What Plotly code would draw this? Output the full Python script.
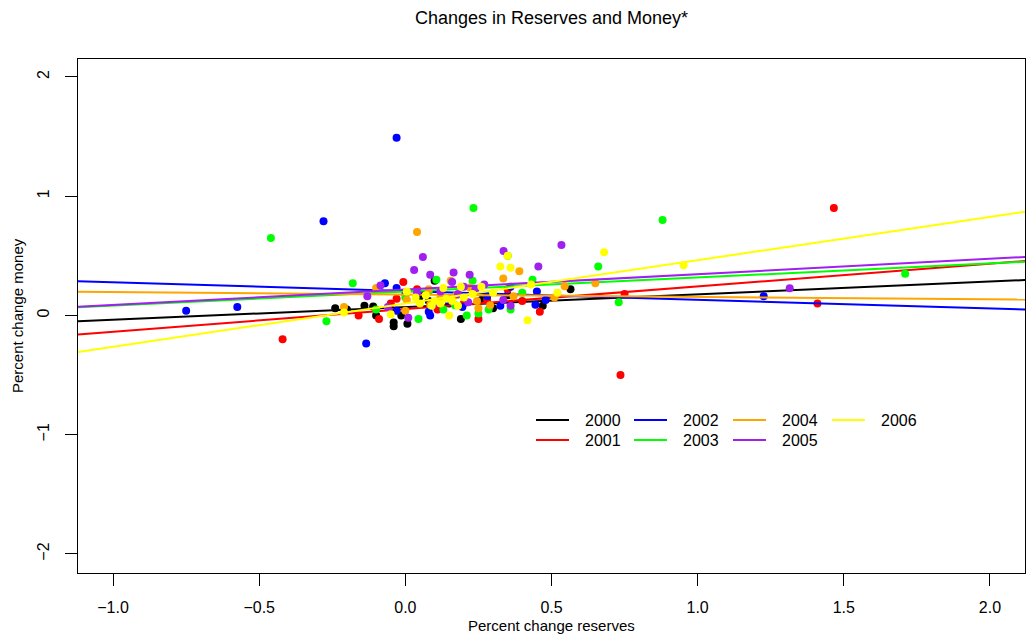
import plotly.graph_objects as go

years = ["2000", "2001", "2002", "2003", "2004", "2005", "2006"]
colors = ["#000000", "#FF0000", "#0000FF", "#00FF00", "#FFA500", "#A020F0", "#FFFF00"]

# reserves change (x) and money change (y) per year
x2000 = [-0.24, -0.14, -0.11, -0.10, -0.04, -0.04, -0.014, 0.007, 0.10, 0.19, 0.26, 0.30, 0.47, 0.565, 0.08, 0.15, 0.35, 0.05, -0.20, 0.12]
y2000 = [0.06, 0.08, 0.075, 0.0, -0.06, -0.09, 0.0, -0.07, 0.29, -0.03, 0.13, 0.06, 0.08, 0.22, 0.12, 0.10, 0.17, 0.16, 0.05, 0.06]

x2001 = [1.466, 1.41, 0.736, -0.42, -0.16, -0.09, -0.03, -0.007, 0.04, 0.11, 0.25, 0.28, 0.35, 0.40, 0.46, 0.75, 0.13, 0.20, 0.07, -0.05]
y2001 = [0.90, 0.10, -0.50, -0.20, 0.0, -0.03, 0.14, 0.28, 0.22, 0.05, -0.03, 0.13, 0.22, 0.12, 0.03, 0.18, 0.15, 0.10, 0.18, 0.10]

x2002 = [-0.03, -0.28, -0.75, -0.575, -0.134, 1.226, -0.07, -0.03, -0.03, 0.085, 0.08, 0.195, 0.325, 0.36, 0.445, 0.45, 0.48, 0.0, 0.15, 0.28]
y2002 = [1.49, 0.79, 0.04, 0.07, -0.235, 0.16, 0.27, 0.23, 0.04, 0.0, 0.03, 0.07, 0.08, 0.24, 0.09, 0.20, 0.13, 0.18, 0.12, 0.16]

x2003 = [-0.46, 0.233, 0.88, 1.71, 0.66, 0.73, -0.27, -0.18, 0.106, 0.045, 0.13, 0.17, 0.21, 0.23, 0.35, 0.25, 0.285, 0.36, 0.40, 0.435, 0.0, -0.10, 0.08]
y2003 = [0.65, 0.90, 0.80, 0.35, 0.41, 0.11, -0.05, 0.27, 0.30, -0.03, 0.05, 0.085, 0.0, 0.29, 0.50, 0.017, 0.05, 0.05, 0.19, 0.30, 0.15, 0.05, 0.20]

x2004 = [0.04, 0.39, 0.65, -0.21, -0.10, 0.005, 0.08, 0.085, 0.155, 0.175, 0.0, 0.22, 0.245, 0.25, 0.29, 0.335, 0.37, 0.51, 0.545, 0.12]
y2004 = [0.70, 0.37, 0.27, 0.07, 0.23, 0.13, 0.22, 0.09, 0.29, 0.17, 0.04, 0.235, 0.12, 0.06, 0.085, 0.31, 0.16, 0.15, 0.245, 0.15]

x2005 = [1.315, 0.534, 0.336, 0.455, 0.06, 0.03, 0.085, 0.165, 0.22, -0.085, -0.13, 0.16, 0.18, 0.04, -0.06, 0.01, 0.215, 0.20, 0.24, 0.27, 0.36, 0.335, 0.12, 0.10]
y2005 = [0.227, 0.59, 0.54, 0.41, 0.49, 0.38, 0.34, 0.36, 0.34, 0.25, 0.16, 0.28, 0.18, 0.19, 0.07, -0.02, 0.11, 0.24, 0.22, 0.26, 0.08, 0.13, 0.20, 0.10]

x2006 = [0.952, 0.68, 0.418, 0.35, 0.36, 0.005, 0.035, 0.07, 0.13, 0.15, 0.19, 0.23, -0.05, -0.21, 0.26, 0.325, 0.43, 0.52, 0.30, 0.10, 0.12, 0.14, 0.16, 0.18, 0.09, 0.20, 0.05]
y2006 = [0.42, 0.53, -0.04, 0.50, 0.40, 0.20, 0.15, 0.17, 0.23, 0.0, 0.24, 0.18, 0.01, 0.025, 0.24, 0.41, 0.26, 0.19, 0.19, 0.12, 0.10, 0.14, 0.12, 0.08, 0.08, 0.15, 0.10]

# fitted regression line per year (intercept, slope)
intercepts = [0.07, 0.053, 0.204, 0.20, 0.175, 0.217, 0.10]
slopes = [0.107, 0.19, -0.073, 0.118, -0.02, 0.129, 0.363]

xs = [x2000, x2001, x2002, x2003, x2004, x2005, x2006]
ys = [y2000, y2001, y2002, y2003, y2004, y2005, y2006]

x_range = [-1.12, 2.12]
y_range = [-2.16, 2.15]
x_ticks = [-1.0, -0.5, 0.0, 0.5, 1.0, 1.5, 2.0]
y_ticks = [-2, -1, 0, 1, 2]

FONT = "Liberation Sans, Arial, sans-serif"

fig = go.Figure()
for yr, col, xv, yv, a, b in zip(years, colors, xs, ys, intercepts, slopes):
    fig.add_trace(go.Scatter(x=xv, y=yv, mode="markers", marker=dict(color=col, size=8, line=dict(width=0)),
                             showlegend=False, name=yr))
    lx = x_range
    ly = [a + b * v for v in lx]
    fig.add_trace(go.Scatter(x=lx, y=ly, mode="lines", line=dict(color=col, width=2),
                             showlegend=False, name=yr))

# manual legend (column-major, 2 rows)
W, H = 1029, 637
ml, mr, mt, mb = 78, 4, 59, 64
pw, ph = W - ml - mr, H - mt - mb

def px2paper(px, py):
    return (px - ml) / pw, 1 - (py - mt) / ph

col_x = [536, 634, 733, 832]
row_y = [420, 440]
shapes = []
annotations = []
for i, (yr, col) in enumerate(zip(years, colors)):
    c, r = i // 2, i % 2
    x0, yy = px2paper(col_x[c], row_y[r])
    x1, _ = px2paper(col_x[c] + 33, row_y[r])
    xt, _ = px2paper(col_x[c] + 47, row_y[r])
    shapes.append(dict(type="line", xref="paper", yref="paper", x0=x0, x1=x1, y0=yy, y1=yy,
                       line=dict(color=col, width=2)))
    annotations.append(dict(text=yr, xref="paper", yref="paper", x=xt, y=yy, xanchor="left",
                            yanchor="middle", showarrow=False, font=dict(size=16, color="#000", family=FONT)))

# axis titles
xa, ya = px2paper(551, 625)
annotations.append(dict(text="Percent change reserves", xref="paper", yref="paper", x=xa, y=ya,
                        xanchor="center", yanchor="middle", showarrow=False,
                        font=dict(size=15, color="#000", family=FONT)))
xa, ya = px2paper(17, 316)
annotations.append(dict(text="Percent change money", xref="paper", yref="paper", x=xa, y=ya,
                        xanchor="center", yanchor="middle", showarrow=False, textangle=-90,
                        font=dict(size=15, color="#000", family=FONT)))

fig.update_layout(
    width=W, height=H,
    margin=dict(l=ml, r=mr, t=mt, b=mb, autoexpand=False),
    paper_bgcolor="white", plot_bgcolor="white",
    font=dict(family=FONT, color="#000", size=16),
    title=dict(text="Changes in Reserves and Money*", x=(551.5) / W, xanchor="center",
               y=1 - 18 / H, yanchor="middle", font=dict(size=18, color="#000", family=FONT)),
    shapes=shapes, annotations=annotations,
    showlegend=False,
)
fig.update_xaxes(range=x_range, tickvals=x_ticks, tickformat=".1f", showgrid=False, zeroline=False,
                 showline=True, linecolor="#000", linewidth=1, mirror=True, automargin=False,
                 ticks="outside", ticklen=12, tickcolor="#000", tickwidth=1,
                 tickfont=dict(size=16), ticklabelstandoff=8)
fig.update_yaxes(range=y_range, tickvals=y_ticks, showgrid=False, zeroline=False,
                 showline=True, linecolor="#000", linewidth=1, mirror=True, automargin=False,
                 ticks="outside", ticklen=12, tickcolor="#000", tickwidth=1,
                 tickangle=-90, tickfont=dict(size=16), ticklabelstandoff=10)

fig.write_html("out.html", config={"displayModeBar": False},
               post_script="document.body.style.margin='0';document.body.style.overflow='hidden';")
